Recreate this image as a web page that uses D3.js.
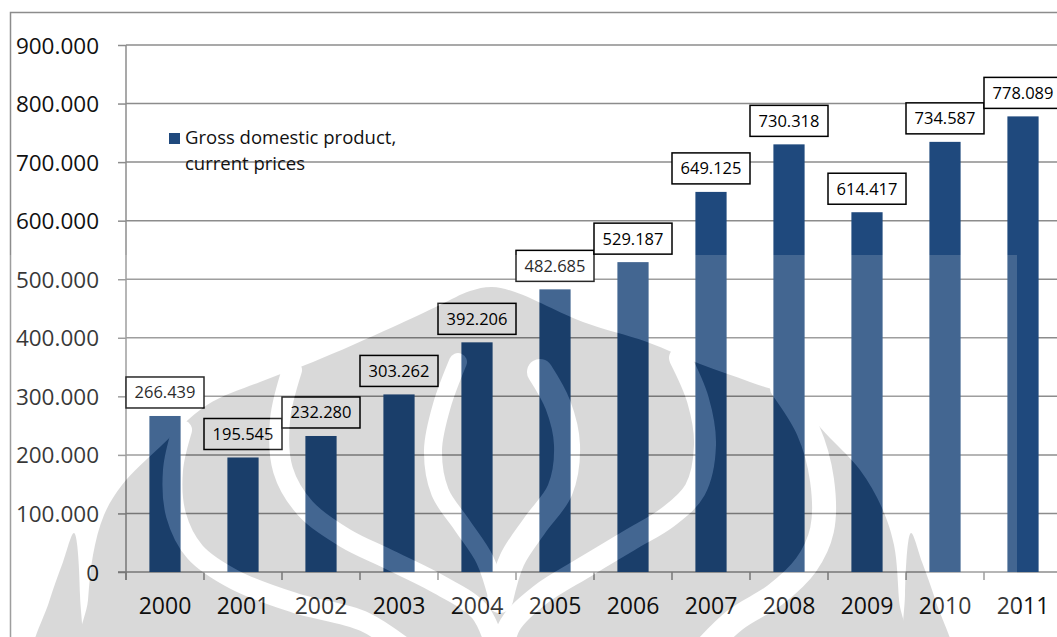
<!DOCTYPE html>
<html>
<head>
<meta charset="utf-8">
<script src="https://cdn.jsdelivr.net/npm/d3@7"></script>
<style>
  html, body { margin: 0; padding: 0; background: #ffffff; }
  svg { display: block; font-family: "Open Sans", "Liberation Sans", sans-serif; }
</style>
</head>
<body>
<script>
// ---- data -------------------------------------------------------------
const years = ["2000", "2001", "2002", "2003", "2004", "2005",
               "2006", "2007", "2008", "2009", "2010", "2011"];
const gdpCurrentPrices = [266439, 195545, 232280, 303262, 392206, 482685,
                          529187, 649125, 730318, 614417, 734587, 778089];
const yTickValues = [0, 100000, 200000, 300000, 400000, 500000,
                     600000, 700000, 800000, 900000];
const legendLines = ["Gross domestic product,", "current prices"];

// ---- setup ------------------------------------------------------------
const W = 1057, H = 637;
const BAR = "#1F497D";
const AXIS = "#8c8c8c";

const idLocale = d3.formatLocale({ decimal: ",", thousands: ".", grouping: [3], currency: ["", ""] });
const fmt = idLocale.format(",");

const svg = d3.select("body").append("svg")
  .attr("width", W).attr("height", H);

const plot = { left: 126, right: 1062, top: 45, bottom: 572 };

const x = d3.scaleBand()
  .domain(years)
  .range([plot.left, plot.right])
  .paddingInner(0.6)
  .paddingOuter(0.3);

const y = d3.scaleLinear()
  .domain([0, 900000])
  .range([plot.bottom, plot.top]);

// outer chart frame
svg.append("rect")
  .attr("x", 10.5).attr("y", 12.5)
  .attr("width", 1070).attr("height", 650)
  .attr("fill", "none").attr("stroke", AXIS).attr("stroke-width", 1.5);

// horizontal gridlines and left tick marks
const grid = svg.append("g");
grid.selectAll("line.grid")
  .data(yTickValues.filter(v => v > 0))
  .join("line")
  .attr("x1", plot.left).attr("x2", plot.right)
  .attr("y1", d => y(d)).attr("y2", d => y(d))
  .attr("stroke", AXIS).attr("stroke-width", 1.5);

// y axis
const yAxis = d3.axisLeft(y)
  .tickValues(yTickValues)
  .tickSize(8)
  .tickPadding(19)
  .tickFormat(fmt);
const gy = svg.append("g")
  .attr("transform", `translate(${plot.left},0)`)
  .call(yAxis);
gy.select(".domain").attr("stroke", AXIS).attr("stroke-width", 1.5)
  .attr("d", `M0,${plot.top}V${plot.bottom + 8}`);
gy.selectAll(".tick line").attr("stroke", AXIS).attr("stroke-width", 1.5);
gy.selectAll(".tick text")
  .attr("fill", "#111").attr("font-size", "22.5px")
  .attr("font-family", "'Open Sans', sans-serif")
  .attr("dy", "0.36em");

// x axis baseline with category boundary ticks
const step = x.step();
const edge0 = x(years[0]) - (step - x.bandwidth()) / 2;
const boundaries = d3.range(years.length + 1).map(i => edge0 + i * step);
svg.append("line")
  .attr("x1", plot.left - 8).attr("x2", plot.right)
  .attr("y1", y(0)).attr("y2", y(0))
  .attr("stroke", AXIS).attr("stroke-width", 1.5);
svg.append("g").selectAll("line")
  .data(boundaries)
  .join("line")
  .attr("x1", d => d).attr("x2", d => d)
  .attr("y1", y(0)).attr("y2", y(0) + 8)
  .attr("stroke", AXIS).attr("stroke-width", 1.5);

// category labels
svg.append("g").selectAll("text")
  .data(years)
  .join("text")
  .attr("x", d => x(d) + x.bandwidth() / 2)
  .attr("y", 614)
  .attr("text-anchor", "middle")
  .attr("font-size", "23px")
  .attr("fill", "#111")
  .text(d => d);

// bars
const rows = years.map((yr, i) => ({ year: yr, value: gdpCurrentPrices[i] }));
svg.append("g").selectAll("rect")
  .data(rows)
  .join("rect")
  .attr("x", d => x(d.year))
  .attr("width", x.bandwidth())
  .attr("y", d => y(d.value))
  .attr("height", d => y(0) - y(d.value))
  .attr("fill", BAR);

// value labels in framed boxes above each bar
const boxW = 78, boxH = 31, boxGap = 8;
const lbl = svg.append("g").selectAll("g")
  .data(rows)
  .join("g")
  .attr("transform", d => `translate(${x(d.year) + x.bandwidth() / 2},${y(d.value) - boxGap - boxH})`);
lbl.append("rect")
  .attr("x", -boxW / 2).attr("y", 0)
  .attr("width", boxW).attr("height", boxH)
  .attr("fill", "#fff").attr("stroke", "#000").attr("stroke-width", 1.5);
lbl.append("text")
  .attr("x", 0).attr("y", boxH / 2 + 6)
  .attr("text-anchor", "middle")
  .attr("font-size", "16.5px")
  .attr("fill", "#000")
  .text(d => fmt(d.value));

// legend
const legend = svg.append("g").attr("transform", "translate(169,133)");
legend.append("rect").attr("width", 11).attr("height", 11).attr("fill", BAR);
legend.selectAll("text")
  .data(legendLines)
  .join("text")
  .attr("x", 16)
  .attr("y", (d, i) => 11 + i * 26)
  .attr("font-size", "18.5px")
  .attr("fill", "#111")
  .text(d => d);

// ---- page watermark (emblem in light grey, drawn over the chart) ------
const defs = svg.append("defs");
const closed = d3.line().curve(d3.curveCatmullRomClosed.alpha(0.5));
const open = d3.line().curve(d3.curveCatmullRom.alpha(0.5));

const emblemBody = [
  [470, 291], [492, 287], [515, 292], [583, 322], [647, 342], [700, 364],
  [750, 382], [790, 398], [830, 438], [860, 470], [882, 508], [894, 545],
  [899, 600], [902, 660], [85, 660], [88, 600], [93, 555], [104, 515],
  [122, 485], [160, 447], [207, 405], [260, 382], [313, 362], [393, 327], [440, 305]
];
const emblemLeaves = [
  [[911, 533], [922, 562], [936, 602], [952, 660], [908, 660], [905, 595]],
  [[74, 533], [63, 562], [49, 602], [33, 660], [77, 660], [80, 595]]
];
const emblemCuts = [
  { w: 20, p: [[182, 430], [173, 470], [176, 515], [195, 552], [235, 580], [295, 603], [365, 622], [420, 660]] },
  { w: 20, p: [[292, 370], [280, 420], [283, 470], [305, 508], [345, 538], [390, 560], [440, 585], [480, 612], [500, 660]] },
  { w: 18, p: [[458, 362], [442, 405], [433, 450], [440, 492], [462, 525], [485, 560], [498, 600]] },
  { w: 26, p: [[540, 372], [558, 405], [567, 445], [560, 490], [535, 525], [512, 560], [500, 600]] },
  { w: 22, p: [[680, 358], [698, 400], [705, 445], [695, 490], [668, 517], [630, 540], [585, 567], [540, 595], [510, 625], [500, 660]] },
  { w: 24, p: [[782, 388], [808, 430], [822, 480], [822, 530], [806, 565], [775, 595], [735, 620], [695, 660]] }
];

function drawEmblem(g, bodyFill, cutStroke) {
  g.append("path").attr("d", closed(emblemBody)).attr("fill", bodyFill);
  emblemLeaves.forEach(p => g.append("path").attr("d", closed(p)).attr("fill", bodyFill));
  emblemCuts.forEach(c => g.append("path")
    .attr("d", open(c.p)).attr("fill", "none")
    .attr("stroke", cutStroke).attr("stroke-width", c.w).attr("stroke-linecap", "round"));
}

// grey parts of the emblem
const mGrey = defs.append("mask").attr("id", "wm-grey")
  .attr("maskUnits", "userSpaceOnUse").attr("x", 0).attr("y", 0).attr("width", W).attr("height", H);
drawEmblem(mGrey, "#fff", "#000");

// pale backdrop of the emblem image
const mPale = defs.append("mask").attr("id", "wm-pale")
  .attr("maskUnits", "userSpaceOnUse").attr("x", 0).attr("y", 0).attr("width", W).attr("height", H);
mPale.append("rect").attr("x", 0).attr("y", 255).attr("width", 1017).attr("height", H - 255).attr("fill", "#fff");
const paleInner = mPale.append("g");
drawEmblem(paleInner, "#000", "#fff");

const wm = svg.append("g").attr("pointer-events", "none");
wm.append("rect")
  .attr("x", 0).attr("y", 255).attr("width", 1017).attr("height", H - 255)
  .attr("fill", "#fff").attr("fill-opacity", 0.16)
  .attr("mask", "url(#wm-pale)");
wm.append("rect")
  .attr("x", 0).attr("y", 0).attr("width", W).attr("height", H)
  .attr("fill", "#000").attr("fill-opacity", 0.15)
  .attr("mask", "url(#wm-grey)");
</script>
</body>
</html>
